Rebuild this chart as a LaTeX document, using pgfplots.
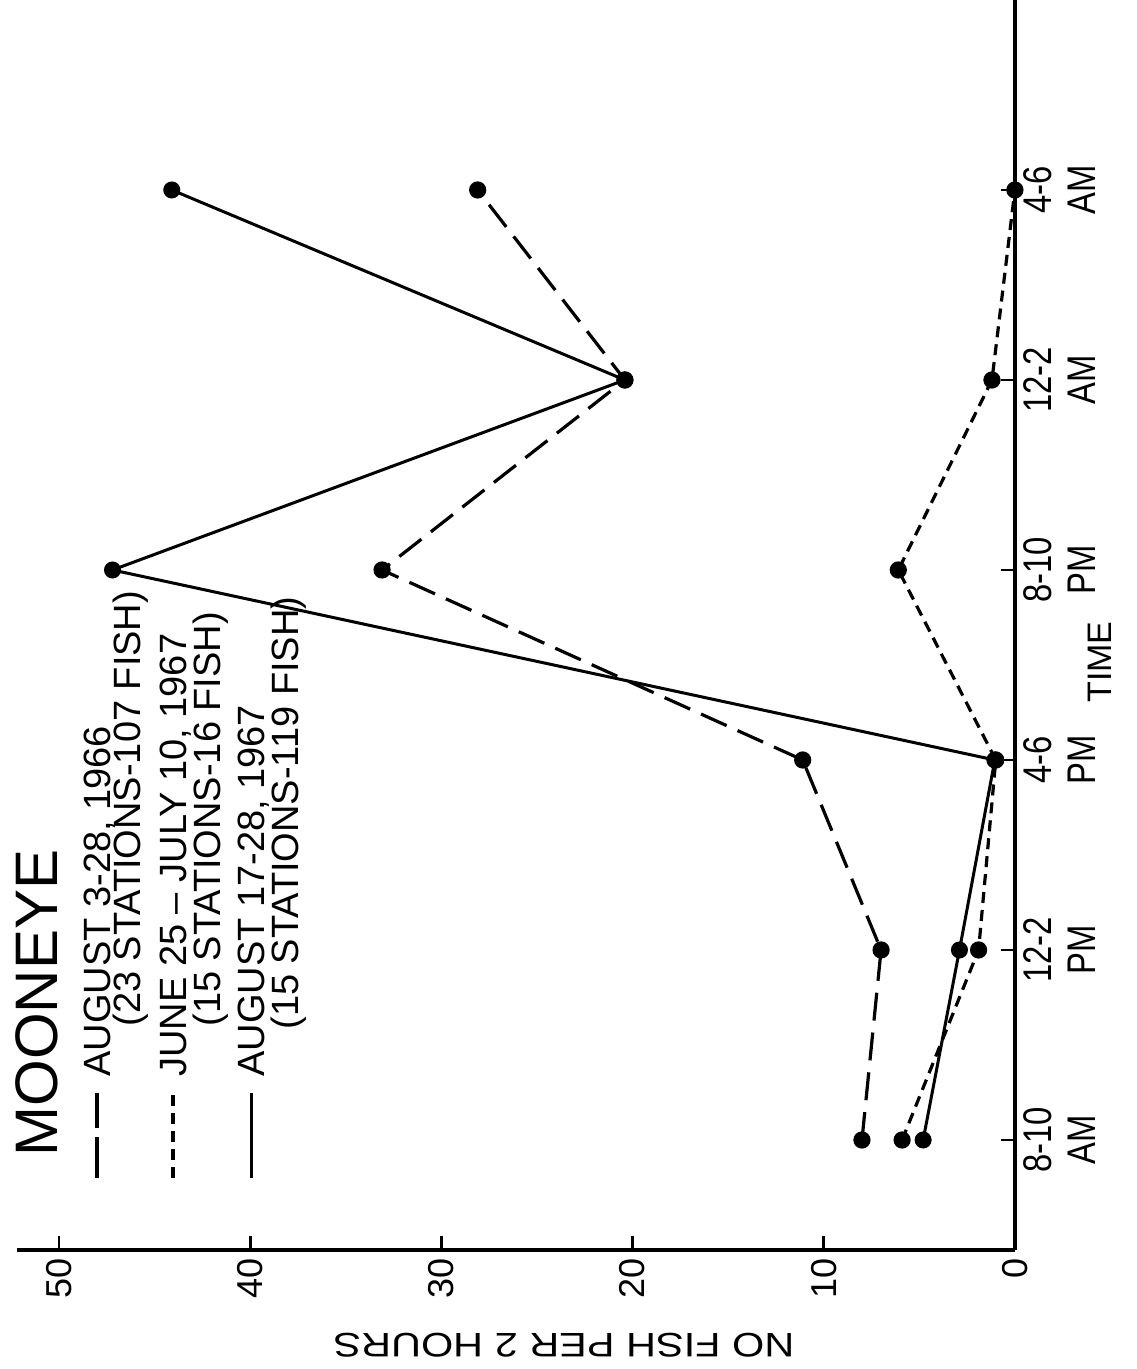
\documentclass[border=0pt]{standalone}
\usepackage{pgfplots}
\pgfplotsset{compat=1.18}
\usepackage{fontspec}
\setmainfont{Liberation Sans}
\newfontfamily\widefont[FakeStretch=1.22]{Liberation Sans}
\newfontfamily\narrowfont[FakeStretch=0.82]{Liberation Sans}
\begin{document}
\begin{tikzpicture}
\begin{axis}[
  scale only axis, width=499pt, height=625pt,
  x dir=reverse,
  xmin=0, xmax=52.2, ymin=-0.579, ymax=6.0,
  axis x line*=bottom, axis y line*=right,
  axis line style={line width=1.8pt},
  xtick={0,10,...,50},
  ytick={0,...,5},
  yticklabels={{8-10\\AM},{12-2\\PM},{4-6\\PM},{8-10\\PM},{12-2\\AM},{4-6\\AM}},
  tick align=inside,
  major tick length=7pt,
  tick style={line width=1.4pt, black},
  xticklabel style={rotate=90, anchor=east, inner sep=4pt, font=\fontsize{18}{20}\selectfont},
  yticklabel style={rotate=90, anchor=north, align=center, inner sep=4pt, font=\narrowfont\fontsize{20}{22}\selectfont},
  /pgf/number format/assume math mode=true,
  clip=false,
]
\addplot[black, line width=1.6pt, dash pattern=on 14pt off 6pt, mark=*, mark size=3.5pt, mark options={solid}]
  coordinates {(8.0,0) (7.0,1) (11.1,2) (33.1,3) (20.4,4) (28.1,5)};
\addplot[black, line width=1.6pt, dash pattern=on 5.5pt off 3.5pt, mark=*, mark size=3.5pt, mark options={solid}]
  coordinates {(5.9,0) (1.9,1) (1.0,2) (6.1,3) (1.2,4) (0,5)};
\addplot[black, line width=1.5pt, mark=*, mark size=3.5pt, mark options={solid}]
  coordinates {(4.8,0) (2.9,1) (1.05,2) (47.2,3) (20.4,4) (44.1,5)};

% legend
\node[rotate=90, anchor=base west, inner sep=0pt, font=\fontsize{30}{32}\selectfont] at (axis cs:50.10,-0.0895) {MOONEYE};
\node[rotate=90, anchor=base west, inner sep=0pt, font=\fontsize{19}{21}\selectfont] at (axis cs:47.33,0.3316) {AUGUST 3-28, 1966};
\node[rotate=90, anchor=base west, inner sep=0pt, font=\fontsize{19}{21}\selectfont] at (axis cs:45.71,0.5947) {(23 STATIONS-107 FISH)};
\node[rotate=90, anchor=base west, inner sep=0pt, font=\fontsize{19}{21}\selectfont] at (axis cs:43.31,0.3316) {JUNE 25 – JULY 10, 1967};
\node[rotate=90, anchor=base west, inner sep=0pt, font=\fontsize{19}{21}\selectfont] at (axis cs:41.53,0.5947) {(15 STATIONS-16 FISH)};
\node[rotate=90, anchor=base west, inner sep=0pt, font=\fontsize{19}{21}\selectfont] at (axis cs:39.23,0.3316) {AUGUST 17-28, 1967};
\node[rotate=90, anchor=base west, inner sep=0pt, font=\fontsize{19}{21}\selectfont] at (axis cs:37.45,0.5789) {(15 STATIONS-119 FISH)};
\draw[black, line width=1.6pt] (axis cs:48.01,-0.2) -- (axis cs:48.01,0.0158);
\draw[black, line width=1.6pt] (axis cs:48.01,0.0632) -- (axis cs:48.01,0.2474);
\draw[black, line width=1.6pt, dash pattern=on 5.5pt off 3.5pt] (axis cs:44.04,-0.2) -- (axis cs:44.04,0.2474);
\draw[black, line width=1.5pt] (axis cs:39.91,-0.2) -- (axis cs:39.91,0.2474);

% axis titles
\node[rotate=180, font=\widefont\fontsize{17}{19}\selectfont] at (axis cs:23.59,-1.079) {NO FISH PER 2 HOURS};
\node[rotate=90, font=\fontsize{17}{19}\selectfont] at (axis cs:-4.45,2.516) {TIME};

\coordinate (bbA) at (axis cs:53.085,6.0);
\coordinate (bbB) at (axis cs:-6.381,-1.2053);
\end{axis}
\pgfresetboundingbox
\useasboundingbox (bbA) rectangle (bbB);
\end{tikzpicture}
\end{document}
